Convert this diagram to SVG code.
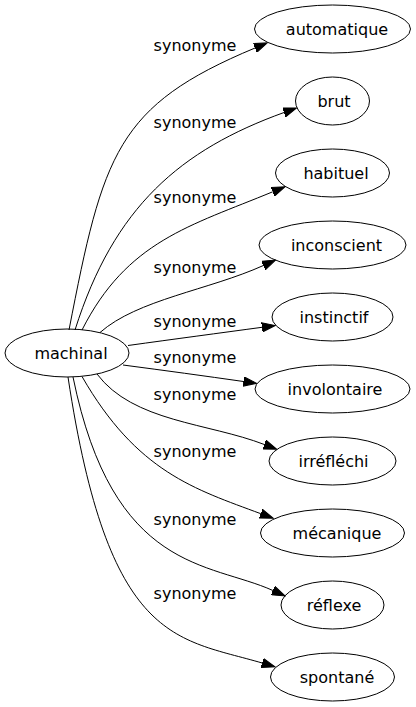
<svg xmlns="http://www.w3.org/2000/svg" width="416" height="707" viewBox="0 0 416 707">
<style>
.node ellipse{fill:none;stroke:#000;stroke-width:1}
text{font-family:"DejaVu Sans","Liberation Sans",sans-serif;font-size:16px;fill:#000;text-anchor:middle}
.edges path{fill:none;stroke:#000;stroke-width:1;marker-end:url(#ah)}
</style>
<defs>
<marker id="ah" viewBox="0 -5 14 10" refX="0" refY="0" markerWidth="14" markerHeight="10" markerUnits="userSpaceOnUse" orient="auto"><path d="M0,-4.7L13.3,0L0,4.7z" fill="#000" stroke="#000" stroke-width="1"/></marker>
</defs>
<rect width="416" height="707" fill="#fff"/>
<g id="connectors" class="edges">
<path d="M69,330 C103.2,153.6 116.5,105.75 255,48"/>
<path d="M75,330 C114,206.5 180.6,149.9 284,112.5"/>
<path d="M82,330 C127,241 189.9,226 272.7,191.8"/>
<path d="M100,332.5 C137.5,299.5 208.8,290.1 263.4,265.5"/>
<path d="M128,345.5 C175,339 220,333 262,327.3"/>
<path d="M123,365 C165,370.5 205,376 243.5,381.5"/>
<path d="M97,374 C133,422 208.5,422.9 264.3,444.5"/>
<path d="M82,376.5 C137,472.2 195,489.2 260.8,513.7"/>
<path d="M73,377 C113,573 209.2,561.8 272.9,590.5"/>
<path d="M68,377 C108.5,644.3 175.8,637.8 262.2,663"/>
</g>
<g id="edge-labels">
<text x="195" y="51">synonyme</text>
<text x="195" y="127.5">synonyme</text>
<text x="195" y="203">synonyme</text>
<text x="195" y="273">synonyme</text>
<text x="195" y="327">synonyme</text>
<text x="195" y="363">synonyme</text>
<text x="195" y="400">synonyme</text>
<text x="195" y="457">synonyme</text>
<text x="195" y="525">synonyme</text>
<text x="195" y="599">synonyme</text>
</g>
<g id="machinal" class="node"><ellipse cx="67" cy="353" rx="62" ry="24"/><text x="71" y="358.5">machinal</text></g>
<g id="automatique" class="node"><ellipse cx="332.5" cy="29" rx="78" ry="24"/><text x="337" y="34.5">automatique</text></g>
<g id="brut" class="node"><ellipse cx="332.5" cy="101" rx="37" ry="24"/><text x="334" y="106.5">brut</text></g>
<g id="habituel" class="node"><ellipse cx="332.5" cy="173" rx="57" ry="24"/><text x="336" y="178.5">habituel</text></g>
<g id="inconscient" class="node"><ellipse cx="332.5" cy="245" rx="73.5" ry="24"/><text x="336.5" y="250.5">inconscient</text></g>
<g id="instinctif" class="node"><ellipse cx="332.5" cy="317" rx="60.5" ry="24"/><text x="334" y="322.5">instinctif</text></g>
<g id="involontaire" class="node"><ellipse cx="332.5" cy="389" rx="77.5" ry="24"/><text x="335" y="394.5">involontaire</text></g>
<g id="irrefléchi" class="node"><ellipse cx="332.5" cy="461" rx="63.5" ry="24"/><text x="333.5" y="466.5">irréfléchi</text></g>
<g id="mecanique" class="node"><ellipse cx="332.5" cy="533" rx="72" ry="24"/><text x="337" y="538.5">mécanique</text></g>
<g id="reflexe" class="node"><ellipse cx="332.5" cy="605" rx="51.5" ry="24"/><text x="334" y="610.5">réflexe</text></g>
<g id="spontane" class="node"><ellipse cx="332.5" cy="677" rx="62" ry="24"/><text x="337" y="682.5">spontané</text></g>
</svg>
